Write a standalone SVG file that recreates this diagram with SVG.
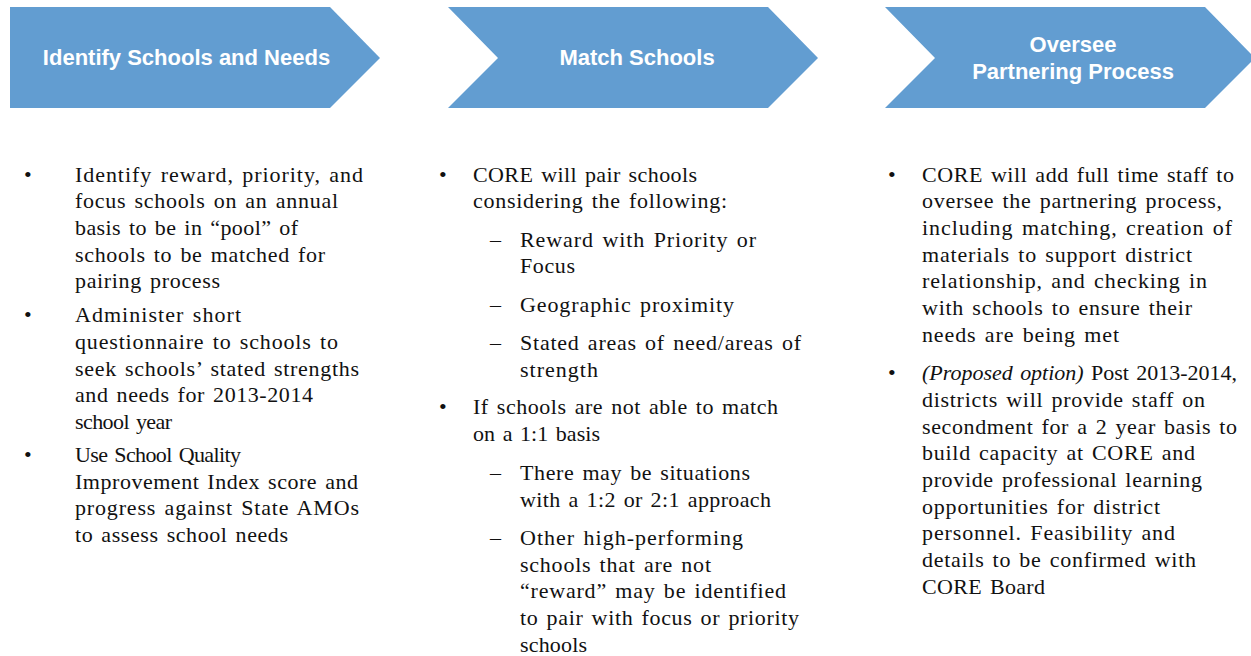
<svg xmlns="http://www.w3.org/2000/svg" width="1251" height="656" viewBox="0 0 1251 656">
<style>
.chev{fill:#629dd1;}
.hd{font-family:"Liberation Sans",Arial,sans-serif;font-weight:bold;font-size:22px;fill:#ffffff;text-anchor:middle;}
.bt{font-family:"Liberation Serif","Times New Roman",serif;font-size:22px;fill:#111111;word-spacing:2px;}
.it{font-style:italic;}
</style>
<rect width="1251" height="656" fill="#ffffff"/>
<g id="step1">
<path class="chev" d="M10,7 L330,7 L380,58 L330,108 L10,108 Z"/>
<text class="hd" x="186.5" y="65">Identify  Schools and Needs</text>
</g>
<g id="step2">
<path class="chev" d="M448,7 L768,7 L818,58 L768,108 L448,108 L498,58 Z"/>
<text class="hd" x="637" y="65">Match Schools</text>
</g>
<g id="step3">
<path class="chev" d="M885,7 L1205,7 L1255,58 L1205,108 L885,108 L935,58 Z"/>
<text class="hd" x="1073" y="52">Oversee</text>
<text class="hd" x="1073" y="79">Partnering Process</text>
</g>
<g id="connectors"></g>
<g id="col1" class="bt">
<text x="24" y="182">•</text>
<text x="75" y="182" textLength="288" lengthAdjust="spacing">Identify reward, priority, and</text>
<text x="75" y="208" textLength="263" lengthAdjust="spacing">focus schools on an annual</text>
<text x="75" y="235" textLength="223" lengthAdjust="spacing">basis to be in “pool” of</text>
<text x="75" y="262" textLength="250" lengthAdjust="spacing">schools to be matched for</text>
<text x="75" y="288" textLength="145" lengthAdjust="spacing">pairing process</text>
<text x="24" y="322">•</text>
<text x="75" y="322" textLength="166" lengthAdjust="spacing">Administer short</text>
<text x="75" y="349" textLength="263" lengthAdjust="spacing">questionnaire to schools to</text>
<text x="75" y="376" textLength="284" lengthAdjust="spacing">seek schools’ stated strengths</text>
<text x="75" y="402" textLength="238" lengthAdjust="spacing">and needs for 2013-2014</text>
<text x="75" y="429" textLength="97" lengthAdjust="spacing">school year</text>
<text x="24" y="462">•</text>
<text x="75" y="462" textLength="166" lengthAdjust="spacing">Use School Quality</text>
<text x="75" y="489" textLength="283" lengthAdjust="spacing">Improvement Index score and</text>
<text x="75" y="515" textLength="284" lengthAdjust="spacing">progress against State AMOs</text>
<text x="75" y="542" textLength="213" lengthAdjust="spacing">to assess school needs</text>
</g>
<g id="col2" class="bt">
<text x="439" y="182">•</text>
<text x="473" y="182" textLength="224" lengthAdjust="spacing">CORE will pair schools</text>
<text x="473" y="208" textLength="254" lengthAdjust="spacing">considering the following:</text>
<text x="490" y="247">–</text>
<text x="520" y="247" textLength="236" lengthAdjust="spacing">Reward with Priority or</text>
<text x="520" y="273" textLength="55" lengthAdjust="spacing">Focus</text>
<text x="490" y="312">–</text>
<text x="520" y="312" textLength="214" lengthAdjust="spacing">Geographic proximity</text>
<text x="490" y="350">–</text>
<text x="520" y="350" textLength="281" lengthAdjust="spacing">Stated areas of need/areas of</text>
<text x="520" y="377" textLength="78" lengthAdjust="spacing">strength</text>
<text x="439" y="414">•</text>
<text x="473" y="414" textLength="305" lengthAdjust="spacing">If schools are not able to match</text>
<text x="473" y="441" textLength="127" lengthAdjust="spacing">on a 1:1 basis</text>
<text x="490" y="480">–</text>
<text x="520" y="480" textLength="230" lengthAdjust="spacing">There may be situations</text>
<text x="520" y="507" textLength="251" lengthAdjust="spacing">with a 1:2 or 2:1 approach</text>
<text x="490" y="545">–</text>
<text x="520" y="545" textLength="223" lengthAdjust="spacing">Other high-performing</text>
<text x="520" y="572" textLength="191" lengthAdjust="spacing">schools that are not</text>
<text x="520" y="598" textLength="266" lengthAdjust="spacing">“reward” may be identified</text>
<text x="520" y="625" textLength="279" lengthAdjust="spacing">to pair with focus or priority</text>
<text x="520" y="652" textLength="67" lengthAdjust="spacing">schools</text>
</g>
<g id="col3" class="bt">
<text x="888" y="182">•</text>
<text x="922" y="182" textLength="312" lengthAdjust="spacing">CORE will add full time staff to</text>
<text x="922" y="208" textLength="300" lengthAdjust="spacing">oversee the partnering process,</text>
<text x="922" y="235" textLength="310" lengthAdjust="spacing">including matching, creation of</text>
<text x="922" y="262" textLength="270" lengthAdjust="spacing">materials to support district</text>
<text x="922" y="288" textLength="285" lengthAdjust="spacing">relationship, and checking in</text>
<text x="922" y="315" textLength="270" lengthAdjust="spacing">with schools to ensure their</text>
<text x="922" y="342" textLength="197" lengthAdjust="spacing">needs are being met</text>
<text x="888" y="380">•</text>
<text x="922" y="380" textLength="315" lengthAdjust="spacing"><tspan class="it">(Proposed option)</tspan> Post 2013-2014,</text>
<text x="922" y="407" textLength="283" lengthAdjust="spacing">districts will provide staff on</text>
<text x="922" y="434" textLength="315" lengthAdjust="spacing">secondment for a 2 year basis to</text>
<text x="922" y="460" textLength="273" lengthAdjust="spacing">build capacity at CORE and</text>
<text x="922" y="487" textLength="280" lengthAdjust="spacing">provide professional learning</text>
<text x="922" y="514" textLength="238" lengthAdjust="spacing">opportunities for district</text>
<text x="922" y="540" textLength="253" lengthAdjust="spacing">personnel. Feasibility and</text>
<text x="922" y="567" textLength="274" lengthAdjust="spacing">details to be confirmed with</text>
<text x="922" y="594" textLength="123" lengthAdjust="spacing">CORE Board</text>
</g>
</svg>
